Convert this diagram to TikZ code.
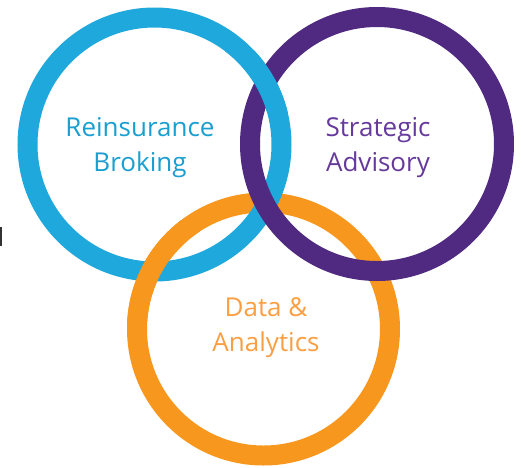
\documentclass[tikz,border=0pt]{standalone}
\usepackage{fontspec}
\setmainfont{Open Sans}
\definecolor{ringblue}{HTML}{1FA8DC}
\definecolor{ringpurple}{HTML}{4F2A80}
\definecolor{ringorange}{HTML}{F8971D}
\definecolor{txtblue}{HTML}{1B9FD0}
\definecolor{txtpurple}{HTML}{663A9C}
\definecolor{txtorange}{HTML}{FA9F42}
\tikzset{
  ringline/.style={line width=20pt},
  lbl/.style={align=center,font=\fontsize{26}{35}\selectfont,inner sep=0pt}
}
\begin{document}
\begin{tikzpicture}[x=1pt,y=-1pt]
\useasboundingbox (0,0) rectangle (523,467);
\fill[white] (0,0) rectangle (523,467);
\coordinate (cb) at (154.5,144.5);
\coordinate (cp) at (377,144);
\coordinate (co) at (263.5,329);
\draw[ringline,ringorange] (co) circle[radius=126.5];
\draw[ringline,ringblue] (cb) circle[radius=127];
\begin{scope}
  \clip (110,220) rectangle (200,320);
  \draw[ringline,ringorange] (co) circle[radius=126.5];
\end{scope}
\draw[ringline,ringpurple] (cp) circle[radius=127];
\begin{scope}
  \clip (225,50) rectangle (300,112);
  \draw[ringline,ringblue] (cb) circle[radius=127];
\end{scope}
\fill[black!80] (0,227) rectangle (1.5,246);
\node[lbl,text=txtblue] (reins) at (140,147.5) {Reinsurance\\Broking};
\node[lbl,text=txtpurple] (strat) at (378,147.5) {Strategic\\Advisory};
\node[lbl,text=txtorange] (data) at (266,328) {Data \&\\Analytics};
\end{tikzpicture}
\end{document}
